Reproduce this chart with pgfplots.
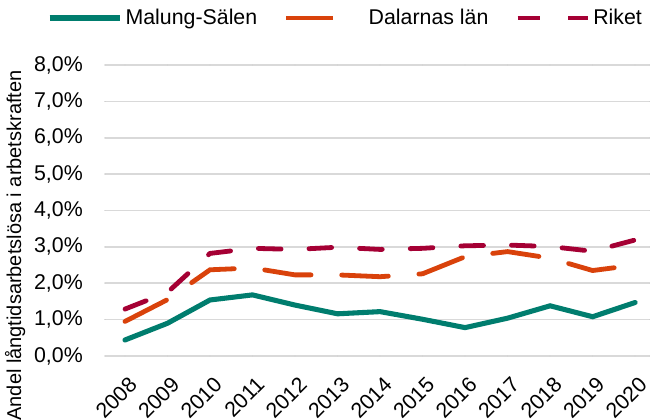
\documentclass[border=0pt]{standalone}
\usepackage{fontspec}
\setmainfont{Liberation Sans}
\usepackage{pgfplots}
\pgfplotsset{compat=1.18}
\definecolor{cgreen}{RGB}{0,125,110}
\definecolor{corange}{RGB}{217,66,11}
\definecolor{cred}{RGB}{165,0,52}
\definecolor{cgrid}{RGB}{217,217,217}
\begin{document}
\begin{tikzpicture}
\begin{axis}[
  scale only axis, width=408.75pt, height=218.25pt,
  font=\fontsize{16}{19}\selectfont,
  xmin=2007.53, xmax=2020.35, ymin=0, ymax=8,
  xtick={2008,...,2020}, ytick={0,...,8},
  /pgf/number format/assume math mode=true,
  xticklabel style={/pgf/number format/1000 sep={}, xshift=2pt, yshift=-14.5pt, rotate=45, anchor=north east, inner sep=0pt},
  yticklabel={\pgfmathprintnumber[fixed,fixed zerofill,precision=1,use comma]{\tick}\%},
  yticklabel style={anchor=east, inner sep=0pt, xshift=-16.5pt},
  axis line style={draw=none}, major tick length=0pt,
  ymajorgrids, grid style={color=cgrid, line width=1.3pt},
  ylabel={Andel långtidsarbetslösa i arbetskraften},
  ylabel style={at={(axis description cs:-0.165,0.38)}, anchor=center, font=\fontsize{15}{18}\selectfont},
  legend style={draw=none, fill=none, at={(0.442,1.1615)}, anchor=center, legend columns=3,
    nodes={inner sep=2pt},
    /tikz/every odd column/.append style={column sep=0pt},
    /tikz/every even column/.append style={column sep=18pt}},
  legend image code/.code={\draw[#1] (0pt,0pt) -- (53pt,0pt);},
  line cap=round,
]
\addplot[cgreen, line width=3.8pt] coordinates {
(2008,0.44) (2009,0.90) (2010,1.54) (2011,1.68) (2012,1.40) (2013,1.16) (2014,1.22)
(2015,1.01) (2016,0.78) (2017,1.04) (2018,1.38) (2019,1.08) (2020,1.47)};
\addlegendentry{Malung-Sälen}
\addplot[corange, line width=3.6pt, dash pattern=on 35pt off 23pt] coordinates {
(2008,0.95) (2009,1.55) (2010,2.37) (2011,2.42) (2012,2.23) (2013,2.23) (2014,2.18)
(2015,2.26) (2016,2.73) (2017,2.87) (2018,2.69) (2019,2.35) (2020,2.50)};
\addlegendentry{\hspace{5pt}Dalarnas län}
\addplot[cred, line width=3.6pt, dash pattern=on 17pt off 21pt] coordinates {
(2008,1.29) (2009,1.75) (2010,2.82) (2011,2.96) (2012,2.93) (2013,2.99) (2014,2.93)
(2015,2.96) (2016,3.03) (2017,3.05) (2018,3.01) (2019,2.88) (2020,3.19)};
\addlegendentry{Riket}
\end{axis}
\pgfresetboundingbox
\useasboundingbox (-78.75pt,-47.25pt) rectangle (408.75pt,267pt);
\end{tikzpicture}
\end{document}
